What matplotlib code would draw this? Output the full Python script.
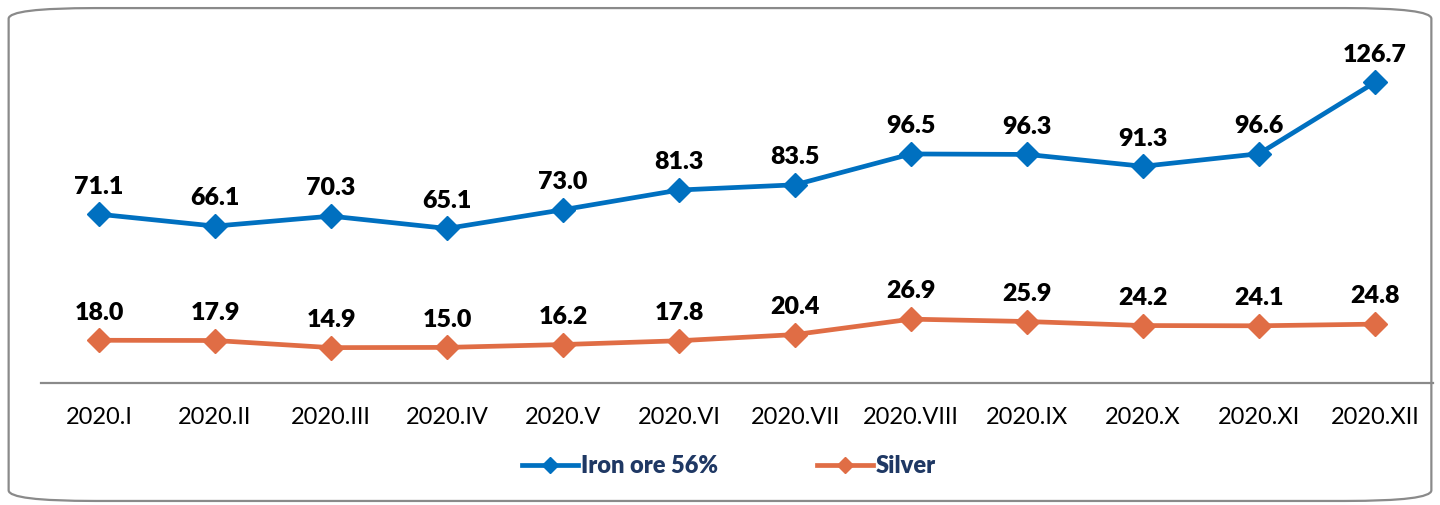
import matplotlib
matplotlib.use('Agg')
import matplotlib.pyplot as plt
from matplotlib.patches import FancyBboxPatch

# data
months = ['2020.I', '2020.II', '2020.III', '2020.IV', '2020.V', '2020.VI',
          '2020.VII', '2020.VIII', '2020.IX', '2020.X', '2020.XI', '2020.XII']
iron_ore = [71.1, 66.1, 70.3, 65.1, 73.0, 81.3, 83.5, 96.5, 96.3, 91.3, 96.6, 126.7]
silver = [18.0, 17.9, 14.9, 15.0, 16.2, 17.8, 20.4, 26.9, 25.9, 24.2, 24.1, 24.8]

plt.rcParams['font.family'] = ['Lato', 'DejaVu Sans']

blue = '#0070C0'
orange = '#E06D45'

fig = plt.figure(figsize=(14.4, 5.05), dpi=100)

# rounded border around the whole chart
border = FancyBboxPatch((0.006, 0.008), 0.988, 0.976,
                        boxstyle='round,pad=0,rounding_size=0.06',
                        transform=fig.transFigure, facecolor='none',
                        edgecolor='#8a8a8a', linewidth=1.6,
                        mutation_aspect=505 / 1440, zorder=-1)
fig.patches.append(border)

ax = fig.add_axes([0.0285, 0.2416, 0.9667, 0.705])
ax.set_facecolor('none')
x = list(range(len(months)))

ax.plot(x, iron_ore, color=blue, lw=3.4, marker='D', ms=12,
        label='Iron ore 56%')
ax.plot(x, silver, color=orange, lw=3.4, marker='D', ms=12,
        label='Silver')

for xi, v in zip(x, iron_ore):
    ax.annotate(f'{v:.1f}', (xi, v), xytext=(0, 12), textcoords='offset points',
                ha='center', va='bottom', fontsize=18, fontweight='heavy')
for xi, v in zip(x, silver):
    ax.annotate(f'{v:.1f}', (xi, v), xytext=(0, 12), textcoords='offset points',
                ha='center', va='bottom', fontsize=18, fontweight='heavy')

ax.set_xlim(-0.5, len(months) - 0.5)
ax.set_ylim(0, 150)
ax.set_xticks(x)
ax.set_xticklabels(months, fontsize=17)
ax.tick_params(axis='x', length=0, pad=17)
ax.set_yticks([])
for s in ['top', 'left', 'right']:
    ax.spines[s].set_visible(False)
ax.spines['bottom'].set_color('#8a8a8a')
ax.spines['bottom'].set_linewidth(1.6)

leg = ax.legend(loc='center', bbox_to_anchor=(0.494, -0.233), ncol=2, frameon=False,
                fontsize=17, handlelength=2.4, handletextpad=0.1,
                columnspacing=4.2, markerscale=0.7)
for t in leg.get_texts():
    t.set_color('#1F3864')
    t.set_fontweight('heavy')

fig.savefig('out.png', dpi=100)
